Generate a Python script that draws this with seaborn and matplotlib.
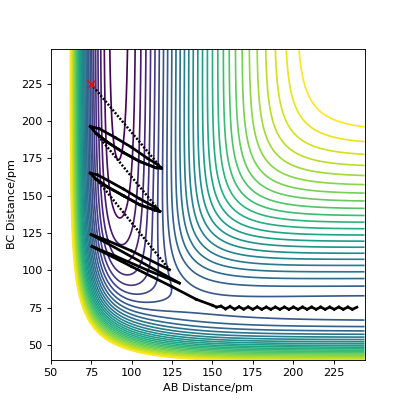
import numpy as np
import seaborn as sns
import matplotlib.pyplot as plt

# LEPS surface, energies in kJ/mol, distances in pm
D_AB, beta_AB, re_AB, k_AB = 590.7, 0.0219, 91.7, 0.167
D_BC, beta_BC, re_BC, k_BC = 458.2, 0.0180, 74.1, 0.106

x_range = (50, 244)
y_range = (39.5, 248.7)
level_min, level_max, n_levels = -580, -100, 30

# trajectory (AB, BC) in pm
traj_ab = [75, 118.5,
           116, 110, 100, 90, 80, 74.5,
           78, 85, 95, 105, 115, 118.5,
           115, 105, 95, 85, 78,
           117.5,
           115, 105, 95, 85, 79, 74.5,
           78, 85, 95, 105, 114, 117.5,
           114, 105, 95, 85, 78.5,
           123.5, 100, 85, 75, 129.6, 110, 90, 75.5, 100, 125, 140, 150,
           152.5, 155.3, 158.1, 160.9, 163.7, 166.5, 169.3, 172.1, 174.9, 177.7, 180.5,
           183.3, 186.1, 188.9, 191.7, 194.5, 197.3, 200.1, 202.9, 205.7, 208.5, 211.3,
           214.1, 216.9, 219.7, 222.5, 225.3, 228.1, 230.9, 233.7, 236.5, 239.3]
traj_bc = [225, 168.5,
           171, 175, 182.5, 189, 195, 196.5,
           192, 186, 179, 173, 168.8, 168.5,
           168.8, 173, 179, 186, 192,
           139.5,
           142, 148, 154.5, 160.5, 164, 165.2,
           161, 156, 150, 144, 140.5, 139.5,
           140.5, 144, 150, 156, 161,
           100.3, 113, 120, 124, 91.4, 100, 109.5, 116, 102.5, 89, 80.5, 76.5,
           75.3, 75.9, 74.1, 75.7, 73.9, 75.5, 73.9, 75.4, 73.8, 75.4, 73.8,
           75.3, 73.8, 75.3, 73.8, 75.3, 73.8, 75.3, 73.8, 75.3, 73.8, 75.3,
           73.8, 75.3, 73.8, 75.3, 73.8, 75.3, 73.8, 75.3, 73.8, 75.2]
# strokes that look dotted (fast) in the picture
dotted_strokes = [0, 18, 36]


def q_and_j(r, D, beta, re, k):
    e = np.exp(-beta * (r - re))
    q = D / (4 * (1 + k)) * ((3 + k) * e**2 - (2 + 6 * k) * e)
    j = D / (4 * (1 + k)) * ((1 + 3 * k) * e**2 - (6 + 2 * k) * e)
    return q, j


def leps(rab, rbc):
    rac = rab + rbc
    qab, jab = q_and_j(rab, D_AB, beta_AB, re_AB, k_AB)
    qbc, jbc = q_and_j(rbc, D_BC, beta_BC, re_BC, k_BC)
    qac, jac = q_and_j(rac, D_AB, beta_AB, re_AB, k_AB)
    root = np.sqrt(jab**2 + jbc**2 + jac**2 - jab * jbc - jbc * jac - jac * jab)
    return qab + qbc + qac - root


X, Y = np.meshgrid(np.linspace(*x_range, 500), np.linspace(*y_range, 500))
V = leps(X, Y)

fig, ax = plt.subplots(figsize=(5, 5), dpi=81)
ax.contour(X, Y, V, levels=np.linspace(level_min, level_max, n_levels), cmap='viridis')

for i in range(len(traj_ab) - 1):
    if i in dotted_strokes:
        ls, lw = (0, (0.8, 0.7)), 2.2
    else:
        ls, lw = '-', 2.4
    sns.lineplot(x=traj_ab[i:i + 2], y=traj_bc[i:i + 2], sort=False, estimator=None,
                 color='black', linestyle=ls, linewidth=lw, ax=ax)

sns.scatterplot(x=[traj_ab[0]], y=[traj_bc[0]], marker='x', color='red', s=45,
                linewidth=1.3, ax=ax, zorder=5)

ax.set_xlim(*x_range)
ax.set_ylim(*y_range)
ax.set_xticks(range(50, 226, 25))
ax.set_yticks(range(50, 226, 25))
ax.set_xlabel('AB Distance/pm')
ax.set_ylabel('BC Distance/pm')

plt.savefig('out.png')
